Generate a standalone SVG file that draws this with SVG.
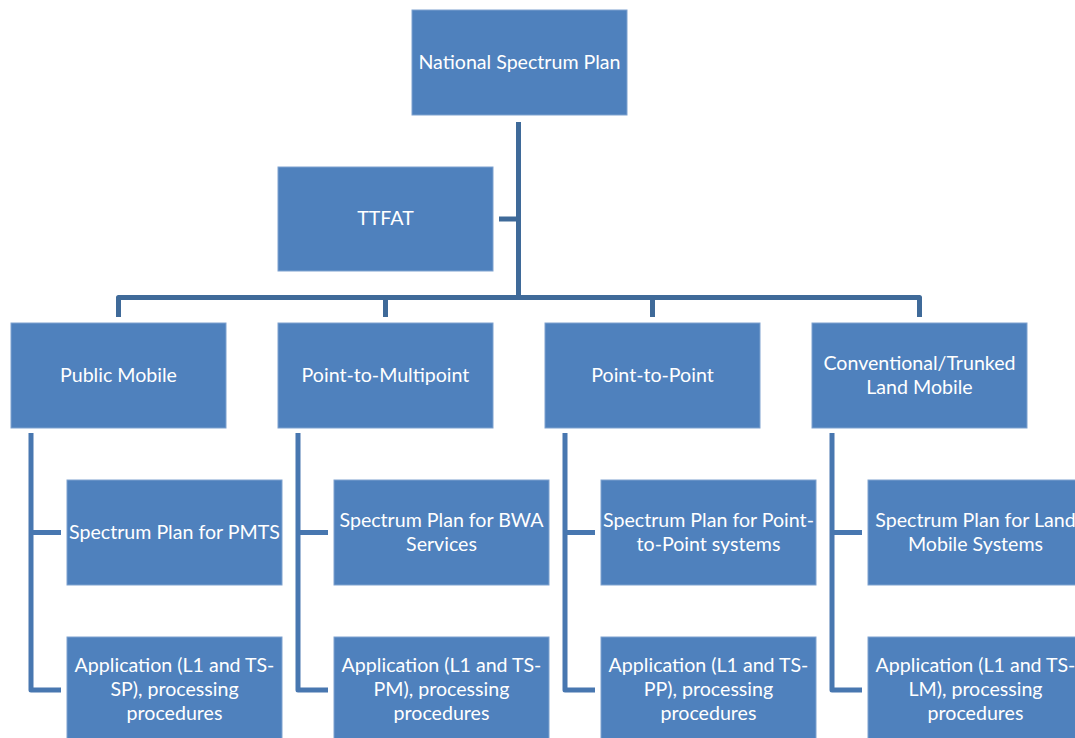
<svg xmlns="http://www.w3.org/2000/svg" width="1075" height="738" viewBox="0 0 1075 738">
  <style>
    .box { fill: #4F81BD; stroke: #7FA2CF; stroke-width: 1; }
    .lbl { fill: #FFFFFF; font-family: Lato, "Open Sans", "Liberation Sans", sans-serif; font-size: 19.6px; text-anchor: middle; dominant-baseline: central; }
    .bus { fill: none; stroke: #3F6A99; stroke-width: 5; stroke-linejoin: round; }
    .sub { fill: none; stroke: #4877B0; stroke-width: 5; stroke-linejoin: round; }
  </style>
  <rect width="1075" height="738" fill="#FFFFFF"/>

  <!-- connectors -->
  <g id="connectors">
    <path class="bus" d="M518.5 122 V297.5"/>
    <path class="bus" d="M499 219 H518.5"/>
    <path class="bus" d="M118.5 317 V297.5 H919.5 V317"/>
    <path class="bus" d="M385.5 297.5 V317"/>
    <path class="bus" d="M652.5 297.5 V317"/>
    <path class="sub" d="M31 433 V690 H61 M31 532.5 H61"/>
    <path class="sub" d="M298 433 V690 H328 M298 532.5 H328"/>
    <path class="sub" d="M565 433 V690 H595 M565 532.5 H595"/>
    <path class="sub" d="M832 433 V690 H862 M832 532.5 H862"/>
  </g>

  <!-- top level -->
  <g id="national-spectrum-plan">
    <rect class="box" x="412" y="10" width="215" height="105"/>
    <text class="lbl" x="519.5" y="61">National Spectrum Plan</text>
  </g>
  <g id="ttfat">
    <rect class="box" x="278" y="167" width="215" height="104"/>
    <text class="lbl" x="385.5" y="217.5">TTFAT</text>
  </g>

  <!-- categories -->
  <g id="public-mobile">
    <rect class="box" x="11" y="323" width="215" height="105"/>
    <text class="lbl" x="118.5" y="374">Public Mobile</text>
  </g>
  <g id="point-to-multipoint">
    <rect class="box" x="278" y="323" width="215" height="105"/>
    <text class="lbl" x="385.5" y="374">Point-to-Multipoint</text>
  </g>
  <g id="point-to-point">
    <rect class="box" x="545" y="323" width="215" height="105"/>
    <text class="lbl" x="652.5" y="374">Point-to-Point</text>
  </g>
  <g id="land-mobile">
    <rect class="box" x="812" y="323" width="215" height="105"/>
    <text class="lbl" x="919.5" y="362">Conventional/Trunked</text>
    <text class="lbl" x="919.5" y="386">Land Mobile</text>
  </g>

  <!-- spectrum plans -->
  <g id="plan-pmts">
    <rect class="box" x="67" y="480" width="215" height="105"/>
    <text class="lbl" x="174.5" y="531">Spectrum Plan for PMTS</text>
  </g>
  <g id="plan-bwa">
    <rect class="box" x="334" y="480" width="215" height="105"/>
    <text class="lbl" x="441.5" y="519">Spectrum Plan for BWA</text>
    <text class="lbl" x="441.5" y="543">Services</text>
  </g>
  <g id="plan-ptp">
    <rect class="box" x="601" y="480" width="215" height="105"/>
    <text class="lbl" x="708.5" y="519">Spectrum Plan for Point-</text>
    <text class="lbl" x="708.5" y="543">to-Point systems</text>
  </g>
  <g id="plan-lm">
    <rect class="box" x="868" y="480" width="215" height="105"/>
    <text class="lbl" x="975.5" y="519">Spectrum Plan for Land</text>
    <text class="lbl" x="975.5" y="543">Mobile Systems</text>
  </g>

  <!-- applications -->
  <g id="app-sp">
    <rect class="box" x="67" y="637" width="215" height="105"/>
    <text class="lbl" x="174.5" y="664">Application (L1 and TS-</text>
    <text class="lbl" x="174.5" y="688">SP), processing</text>
    <text class="lbl" x="174.5" y="712">procedures</text>
  </g>
  <g id="app-pm">
    <rect class="box" x="334" y="637" width="215" height="105"/>
    <text class="lbl" x="441.5" y="664">Application (L1 and TS-</text>
    <text class="lbl" x="441.5" y="688">PM), processing</text>
    <text class="lbl" x="441.5" y="712">procedures</text>
  </g>
  <g id="app-pp">
    <rect class="box" x="601" y="637" width="215" height="105"/>
    <text class="lbl" x="708.5" y="664">Application (L1 and TS-</text>
    <text class="lbl" x="708.5" y="688">PP), processing</text>
    <text class="lbl" x="708.5" y="712">procedures</text>
  </g>
  <g id="app-lm">
    <rect class="box" x="868" y="637" width="215" height="105"/>
    <text class="lbl" x="975.5" y="664">Application (L1 and TS-</text>
    <text class="lbl" x="975.5" y="688">LM), processing</text>
    <text class="lbl" x="975.5" y="712">procedures</text>
  </g>
</svg>
